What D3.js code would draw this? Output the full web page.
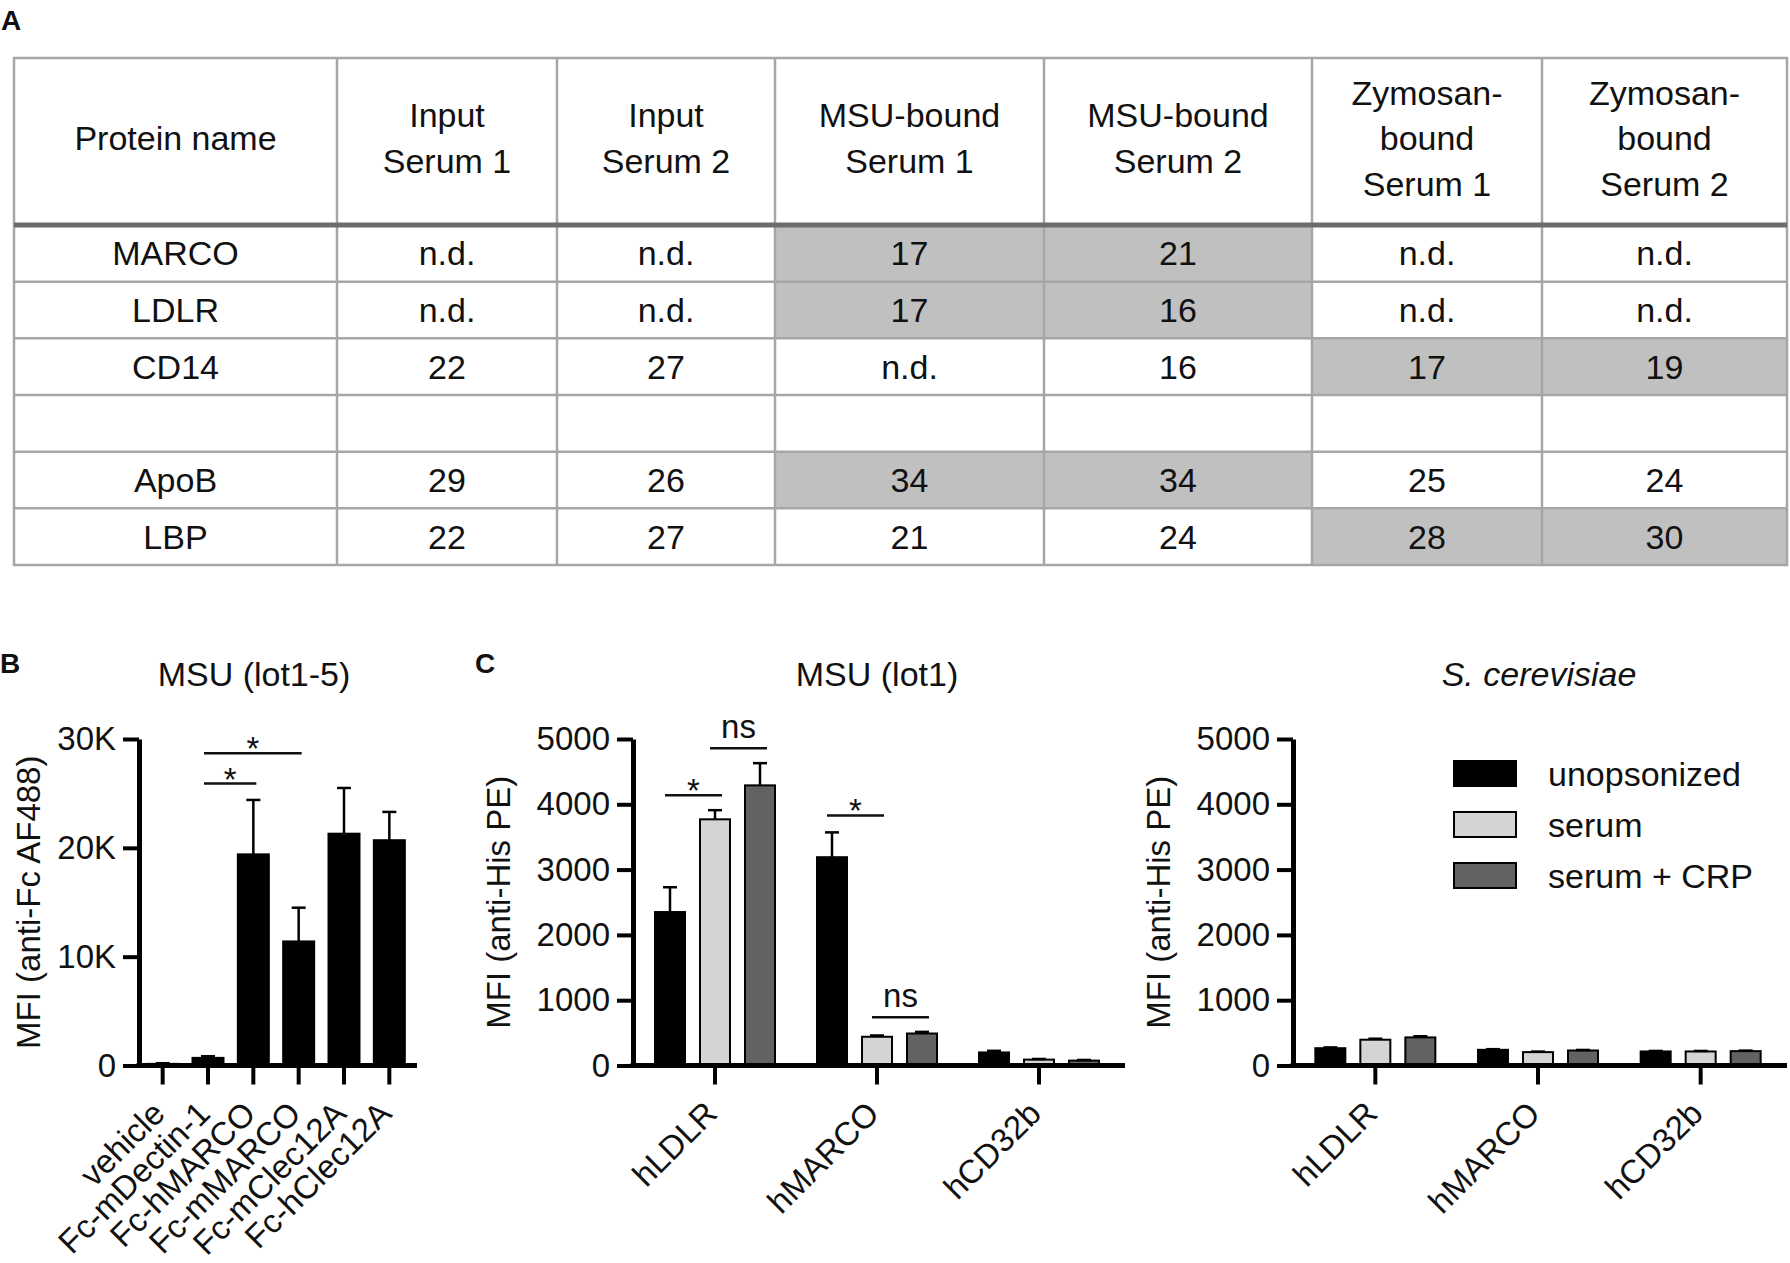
<!DOCTYPE html>
<html>
<head>
<meta charset="utf-8">
<script src="https://cdn.jsdelivr.net/npm/d3@7"></script>
<style>
  html, body { margin: 0; padding: 0; background: #fff; }
  svg { display: block; font-family: "Liberation Sans", Arial, Helvetica, sans-serif; }
</style>
</head>
<body>
<svg id="fig" width="1790" height="1263"></svg>
<script>
// ====== DATA ======

// panel A: proteomics table (spectral counts)
const tableHeaders = [
  ["Protein name"],
  ["Input", "Serum 1"],
  ["Input", "Serum 2"],
  ["MSU-bound", "Serum 1"],
  ["MSU-bound", "Serum 2"],
  ["Zymosan-", "bound", "Serum 1"],
  ["Zymosan-", "bound", "Serum 2"]
];
const proteins = ["MARCO", "LDLR", "CD14", "", "ApoB", "LBP"];
const tableValues = [
  ["n.d.", "n.d.", "17", "21", "n.d.", "n.d."],
  ["n.d.", "n.d.", "17", "16", "n.d.", "n.d."],
  ["22", "27", "n.d.", "16", "17", "19"],
  ["", "", "", "", "", ""],
  ["29", "26", "34", "34", "25", "24"],
  ["22", "27", "21", "24", "28", "30"]
];
const tableShaded = [
  [0, 0, 1, 1, 0, 0],
  [0, 0, 1, 1, 0, 0],
  [0, 0, 0, 0, 1, 1],
  [0, 0, 0, 0, 0, 0],
  [0, 0, 1, 1, 0, 0],
  [0, 0, 0, 0, 1, 1]
];

// panel B: MSU (lot1-5)
const bCategories = ["vehicle", "Fc-mDectin-1", "Fc-hMARCO", "Fc-mMARCO", "Fc-mClec12A", "Fc-hClec12A"];
const bMeans = [150, 700, 19400, 11400, 21300, 20700];
const bErrors = [60, 150, 5000, 3100, 4200, 2600];
const bTicks = [0, 10000, 20000, 30000];
const bTickLabels = ["0", "10K", "20K", "30K"];
const bSig = [
  { fromCat: 1, fromSer: 0, toCat: 2, toSer: 0, y: 25900, label: "*" },
  { fromCat: 1, fromSer: 0, toCat: 3, toSer: 0, y: 28700, label: "*" }
];

// panel C: receptors x opsonization condition
const receptors = ["hLDLR", "hMARCO", "hCD32b"];
const conditions = ["unopsonized", "serum", "serum + CRP"];
const conditionColors = ["#000000", "#d4d4d4", "#626262"];
const cTicks = [0, 1000, 2000, 3000, 4000, 5000];

// MSU (lot1), one row per condition
const msuMeans = [
  [2350, 3190, 200],
  [3770, 440, 90],
  [4290, 490, 75]
];
const msuErrors = [
  [380, 380, 25],
  [140, 20, 10],
  [340, 25, 10]
];
const msuSig = [
  { fromCat: 0, fromSer: 0, toCat: 0, toSer: 1, y: 4140, label: "*" },
  { fromCat: 0, fromSer: 1, toCat: 0, toSer: 2, y: 4860, label: "ns" },
  { fromCat: 1, fromSer: 0, toCat: 1, toSer: 1, y: 3830, label: "*" },
  { fromCat: 1, fromSer: 1, toCat: 1, toSer: 2, y: 740, label: "ns" }
];

// S. cerevisiae
const scMeans = [
  [265, 240, 215],
  [395, 205, 215],
  [430, 230, 220]
];
const scErrors = [
  [12, 10, 8],
  [15, 8, 8],
  [18, 8, 8]
];

// ====== SETUP ======

const svg = d3.select('#fig');
const INK = '#111';

function panelLetter(x, y, t) {
  svg.append('text')
    .attr('x', x).attr('y', y)
    .attr('font-size', 28).attr('font-weight', 'bold')
    .attr('fill', INK)
    .text(t);
}

panelLetter(1, 30, 'A');
panelLetter(0, 673, 'B');
panelLetter(475, 673, 'C');

// ====== TABLE (A) ======

const colEdges = [14, 337, 557, 775, 1044, 1312, 1542, 1787];
const tableTop = 58, headerBottom = 225, tableBottom = 565;
const rowScale = d3.scaleBand()
  .domain(d3.range(proteins.length))
  .range([headerBottom, tableBottom]);
const colMid = (i) => (colEdges[i] + colEdges[i + 1]) / 2;

const tbl = svg.append('g').attr('font-size', 34).attr('fill', INK);

const cells = tableValues.flatMap((row, r) =>
  row.map((v, c) => ({ r, c: c + 1, v, shaded: tableShaded[r][c] }))
);

tbl.selectAll('rect.cell')
  .data(cells.filter((d) => d.shaded))
  .join('rect')
  .attr('class', 'cell')
  .attr('x', (d) => colEdges[d.c])
  .attr('y', (d) => rowScale(d.r))
  .attr('width', (d) => colEdges[d.c + 1] - colEdges[d.c])
  .attr('height', rowScale.bandwidth())
  .attr('fill', '#c0c0c0');

// grid
const gridColor = '#a6a6a6';
const grid = tbl.append('g').attr('stroke', gridColor).attr('stroke-width', 2.5);
rowScale.domain().slice(1).forEach((r) => {
  grid.append('line')
    .attr('x1', colEdges[0]).attr('x2', colEdges[colEdges.length - 1])
    .attr('y1', rowScale(r)).attr('y2', rowScale(r));
});
colEdges.slice(1, -1).forEach((x) => {
  grid.append('line')
    .attr('x1', x).attr('x2', x)
    .attr('y1', tableTop).attr('y2', tableBottom);
});
grid.append('rect')
  .attr('x', colEdges[0]).attr('y', tableTop)
  .attr('width', colEdges[colEdges.length - 1] - colEdges[0])
  .attr('height', tableBottom - tableTop)
  .attr('fill', 'none');
tbl.append('line')
  .attr('x1', colEdges[0]).attr('x2', colEdges[colEdges.length - 1])
  .attr('y1', headerBottom).attr('y2', headerBottom)
  .attr('stroke', '#6c6c6c').attr('stroke-width', 5);

// header text
const headerMid = 138, lineGap = 45.5;
tableHeaders.forEach((lines, c) => {
  lines.forEach((txt, i) => {
    tbl.append('text')
      .attr('x', colMid(c))
      .attr('y', headerMid + (i - (lines.length - 1) / 2) * lineGap + 12)
      .attr('text-anchor', 'middle')
      .text(txt);
  });
});

// body text
tbl.selectAll('text.name')
  .data(proteins)
  .join('text')
  .attr('class', 'name')
  .attr('x', colMid(0))
  .attr('y', (d, i) => rowScale(i) + rowScale.bandwidth() / 2 + 12)
  .attr('text-anchor', 'middle')
  .text((d) => d);

tbl.selectAll('text.val')
  .data(cells)
  .join('text')
  .attr('class', 'val')
  .attr('x', (d) => colMid(d.c))
  .attr('y', (d) => rowScale(d.r) + rowScale.bandwidth() / 2 + 12)
  .attr('text-anchor', 'middle')
  .text((d) => d.v);

// ====== BAR PANELS (B, C) ======

const yTop = 739, yBase = 1065.5;

function barPanel(p) {
  const g = svg.append('g');
  const nSer = p.means.length;

  const y = d3.scaleLinear().domain(p.yDomain).range([yBase, yTop]);
  const x = d3.scaleBand().domain(d3.range(p.cats.length)).range(p.xRange);
  const pad = 1 - p.barW / p.subStep;
  const sub = d3.scaleBand()
    .domain(d3.range(nSer))
    .range([-p.subStep * nSer / 2, p.subStep * nSer / 2])
    .paddingInner(pad)
    .paddingOuter(pad / 2);
  const barX = (c, s) => x(c) + x.bandwidth() / 2 + sub(s);
  const barCx = (c, s) => barX(c, s) + sub.bandwidth() / 2;

  const bars = p.means.flatMap((row, s) =>
    row.map((m, c) => ({ c, s, m, e: p.errs[s][c] }))
  );

  // bars
  g.selectAll('rect.bar')
    .data(bars)
    .join('rect')
    .attr('class', 'bar')
    .attr('x', (d) => barX(d.c, d.s))
    .attr('y', (d) => y(d.m))
    .attr('width', sub.bandwidth())
    .attr('height', (d) => yBase - y(d.m))
    .attr('fill', (d) => p.colors[d.s])
    .attr('stroke', '#000')
    .attr('stroke-width', 2);

  // error bars (upper only)
  const eb = g.append('g').attr('stroke', '#000').attr('stroke-width', 2.5);
  eb.selectAll('line.stem')
    .data(bars)
    .join('line')
    .attr('class', 'stem')
    .attr('x1', (d) => barCx(d.c, d.s)).attr('x2', (d) => barCx(d.c, d.s))
    .attr('y1', (d) => y(d.m)).attr('y2', (d) => y(d.m + d.e));
  eb.selectAll('line.cap')
    .data(bars)
    .join('line')
    .attr('class', 'cap')
    .attr('x1', (d) => barCx(d.c, d.s) - 7).attr('x2', (d) => barCx(d.c, d.s) + 7)
    .attr('y1', (d) => y(d.m + d.e)).attr('y2', (d) => y(d.m + d.e));

  // y axis
  const yAxis = d3.axisLeft(y)
    .tickValues(p.ticks)
    .tickFormat((d, i) => (p.tickLabels ? p.tickLabels[i] : d))
    .tickSize(16)
    .tickPadding(7)
    .tickSizeOuter(0);
  const yg = g.append('g')
    .attr('transform', `translate(${p.x0},0)`)
    .call(yAxis);
  yg.select('.domain').attr('stroke', '#000').attr('stroke-width', 5);
  yg.selectAll('.tick line').attr('stroke', '#000').attr('stroke-width', 4);
  yg.selectAll('.tick text')
    .attr('font-size', 33)
    .attr('font-family', null)
    .attr('fill', INK);

  // x axis
  const xAxis = d3.axisBottom(x)
    .tickFormat((i) => p.cats[i])
    .tickSize(19)
    .tickSizeOuter(0);
  const xg = g.append('g')
    .attr('transform', `translate(0,${yBase})`)
    .call(xAxis);
  xg.select('.domain').remove();
  xg.selectAll('.tick line').attr('stroke', '#000').attr('stroke-width', 4);
  xg.selectAll('.tick text')
    .attr('font-size', 33)
    .attr('fill', INK)
    .attr('y', 0)
    .attr('dy', 0)
    .attr('text-anchor', 'end')
    .attr('transform', 'translate(4,50) rotate(-45)');
  g.append('line')
    .attr('x1', p.x0 - 2.5).attr('x2', p.xEnd)
    .attr('y1', yBase).attr('y2', yBase)
    .attr('stroke', '#000').attr('stroke-width', 5);

  // y label
  g.append('text')
    .attr('transform', `translate(${p.yLabelX},${(yTop + yBase) / 2}) rotate(-90)`)
    .attr('text-anchor', 'middle')
    .attr('font-size', 33)
    .attr('fill', INK)
    .text(p.yLabel);

  // title
  g.append('text')
    .attr('x', p.titleX).attr('y', 686)
    .attr('text-anchor', 'middle')
    .attr('font-size', 34)
    .attr('font-style', p.italic ? 'italic' : null)
    .attr('fill', INK)
    .text(p.title);

  // significance brackets
  (p.sigs || []).forEach((s) => {
    const xa = barCx(s.fromCat, s.fromSer) + p.sigPad[0];
    const xb = barCx(s.toCat, s.toSer) + p.sigPad[1];
    const ly = y(s.y);
    g.append('line')
      .attr('x1', xa).attr('x2', xb)
      .attr('y1', ly).attr('y2', ly)
      .attr('stroke', INK).attr('stroke-width', 2.5);
    g.append('text')
      .attr('x', (xa + xb) / 2)
      .attr('y', s.label === '*' ? ly + 7 : ly - 10)
      .attr('text-anchor', 'middle')
      .attr('font-size', 33)
      .attr('fill', INK)
      .text(s.label);
  });

  return { g, y };
}

// B
barPanel({
  cats: bCategories,
  means: [bMeans],
  errs: [bErrors],
  colors: ['#000'],
  yDomain: [0, 30000],
  ticks: bTicks,
  tickLabels: bTickLabels,
  x0: 139,
  xRange: [140, 412],
  xEnd: 417,
  subStep: 45.33,
  barW: 31,
  yLabel: 'MFI (anti-Fc AF488)',
  yLabelX: 40,
  title: 'MSU (lot1-5)',
  titleX: 254,
  sigs: bSig,
  sigPad: [-4, 3]
});

// C left
barPanel({
  cats: receptors,
  means: msuMeans,
  errs: msuErrors,
  colors: conditionColors,
  yDomain: [0, 5000],
  ticks: cTicks,
  x0: 633,
  xRange: [634, 1120],
  xEnd: 1125,
  subStep: 45,
  barW: 30,
  yLabel: 'MFI (anti-His PE)',
  yLabelX: 510,
  title: 'MSU (lot1)',
  titleX: 877,
  sigs: msuSig,
  sigPad: [-5, 7]
});

// C right
barPanel({
  cats: receptors,
  means: scMeans,
  errs: scErrors,
  colors: conditionColors,
  yDomain: [0, 5000],
  ticks: cTicks,
  x0: 1293,
  xRange: [1294, 1782],
  xEnd: 1787,
  subStep: 45,
  barW: 30,
  yLabel: 'MFI (anti-His PE)',
  yLabelX: 1170,
  title: 'S. cerevisiae',
  titleX: 1539,
  italic: true
});

// legend
const legend = svg.append('g').attr('transform', 'translate(1454,761)');
const legendRow = d3.scaleBand().domain(conditions).range([0, 153]);
legend.selectAll('rect')
  .data(conditions)
  .join('rect')
  .attr('x', 0)
  .attr('y', (d) => legendRow(d))
  .attr('width', 62)
  .attr('height', 25)
  .attr('fill', (d, i) => conditionColors[i])
  .attr('stroke', '#000')
  .attr('stroke-width', 2);
legend.selectAll('text')
  .data(conditions)
  .join('text')
  .attr('x', 94)
  .attr('y', (d) => legendRow(d) + 25)
  .attr('font-size', 34)
  .attr('fill', INK)
  .text((d) => d);
</script>
</body>
</html>
